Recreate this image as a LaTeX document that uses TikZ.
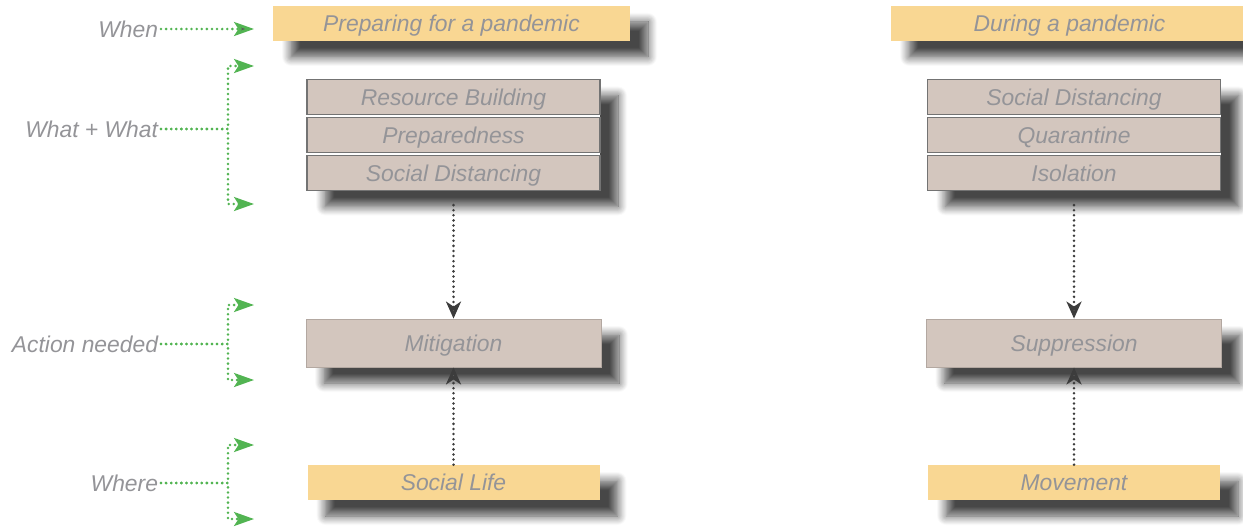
\documentclass[tikz,border=0pt]{standalone}
\usepackage{fontspec}
\setmainfont{Liberation Sans}
\usetikzlibrary{arrows.meta,shadows.blur}

\definecolor{phase}{RGB}{249,215,147}
\definecolor{measure}{RGB}{211,198,190}
\definecolor{textgray}{RGB}{148,148,152}
\definecolor{cuegreen}{RGB}{82,180,82}
\definecolor{flowgray}{RGB}{60,60,60}

\tikzstyle{softshadow} = [blur shadow={shadow xshift=0.36cm, shadow yshift=-0.32cm, shadow blur radius=0.18cm, shadow blur steps=10, shadow opacity=72}]
\tikzstyle{phase} = [rectangle, minimum width=7.14cm, minimum height=0.70cm, text centered, fill=phase, softshadow]
\tikzstyle{measure} = [rectangle, minimum width=5.86cm, minimum height=0.70cm, text centered, draw=black!55, line width=0.7pt, fill=measure]
\tikzstyle{action} = [rectangle, minimum width=5.90cm, minimum height=0.96cm, text centered, draw=measure!85!black, line width=0.5pt, fill=measure, softshadow]
\tikzstyle{place} = [rectangle, minimum width=5.84cm, minimum height=0.70cm, text centered, fill=phase, softshadow]
\tikzstyle{question} = [anchor=east, inner sep=1.5pt]
\tikzstyle{cue} = [-{Stealth[length=0.40cm, width=0.28cm, inset=0.09cm]}, cuegreen, line width=1.6pt, line cap=round, dash pattern=on 0pt off 2.9pt]
\tikzstyle{flow} = [-{Stealth[length=0.34cm, width=0.30cm, inset=0.1cm]}, flowgray, line width=1.6pt, line cap=round, dash pattern=on 0pt off 2.9pt]

\begin{document}
\begin{tikzpicture}[node distance=0.76cm, font=\fontsize{13}{15}\selectfont\itshape, text=textgray, text height=9.6pt, text depth=0pt]
    %\draw[step=1cm,gray,very thin] (0,0) grid (25,11);
    \useasboundingbox (0,0) rectangle (24.86,10.58);
	% one shadow behind each stack
	\path [fill=white, softshadow] (6.14, 8.99) rectangle (12.00, 6.77);
	\path [fill=white, softshadow] (18.55, 8.99) rectangle (24.41, 6.77);
	\node (Prep) at (9.03, 10.11) [phase] {Preparing for a pandemic};
	\node (During) at (21.39, 10.11) [phase] {During a pandemic};
	\node (Resource) at (9.07, 8.64) [measure] {Resource Building};
	\node (Preparedness) [measure, below of=Resource] {Preparedness};
	\node (Distancing L) [measure, below of=Preparedness] {Social Distancing};
	\node (Distancing R) at (21.48, 8.64) [measure] {Social Distancing};
	\node (Quarantine) [measure, below of=Distancing R] {Quarantine};
	\node (Isolation) [measure, below of=Quarantine] {Isolation};
	\node (Mitigation) at (9.07, 3.72) [action] {Mitigation};
	\node (Suppression) at (21.48, 3.72) [action] {Suppression};
	\node (Social Life) at (9.07, 0.93) [place] {Social Life};
	\node (Movement) at (21.48, 0.93) [place] {Movement};
	\node (When) at (3.22, 10.00) [question] {When};
	\node (What) at (3.22, 8.00) [question] {What + What};
	\node (Action) at (3.22, 3.70) [question] {Action needed};
	\node (Where) at (3.22, 0.92) [question] {Where};
	\coordinate (When end) at (5.08, 10.00);
	\coordinate (What top) at (5.08, 9.26);
	\coordinate (What bottom) at (5.08, 6.50);
	\coordinate (Action top) at (5.08, 4.48);
	\coordinate (Action bottom) at (5.08, 2.98);
	\coordinate (Where top) at (5.08, 1.68);
	\coordinate (Where bottom) at (5.08, 0.20);
	\draw [flow, shorten <=0.28cm] (Distancing L) edge (Mitigation);
	\draw [flow, shorten <=0.28cm] (Isolation) edge (Suppression);
	\draw [flow] (Social Life) edge (Mitigation);
	\draw [flow] (Movement) edge (Suppression);
	\draw [cue] (When) edge (When end);
	\draw [cue] (What.east) -- ++(1.34,0) |- (What top);
	\draw [cue] (What.east) -- ++(1.34,0) |- (What bottom);
	\draw [cue] (Action.east) -- ++(1.34,0) |- (Action top);
	\draw [cue] (Action.east) -- ++(1.34,0) |- (Action bottom);
	\draw [cue] (Where.east) -- ++(1.34,0) |- (Where top);
	\draw [cue] (Where.east) -- ++(1.34,0) |- (Where bottom);
\end{tikzpicture}
\end{document}
